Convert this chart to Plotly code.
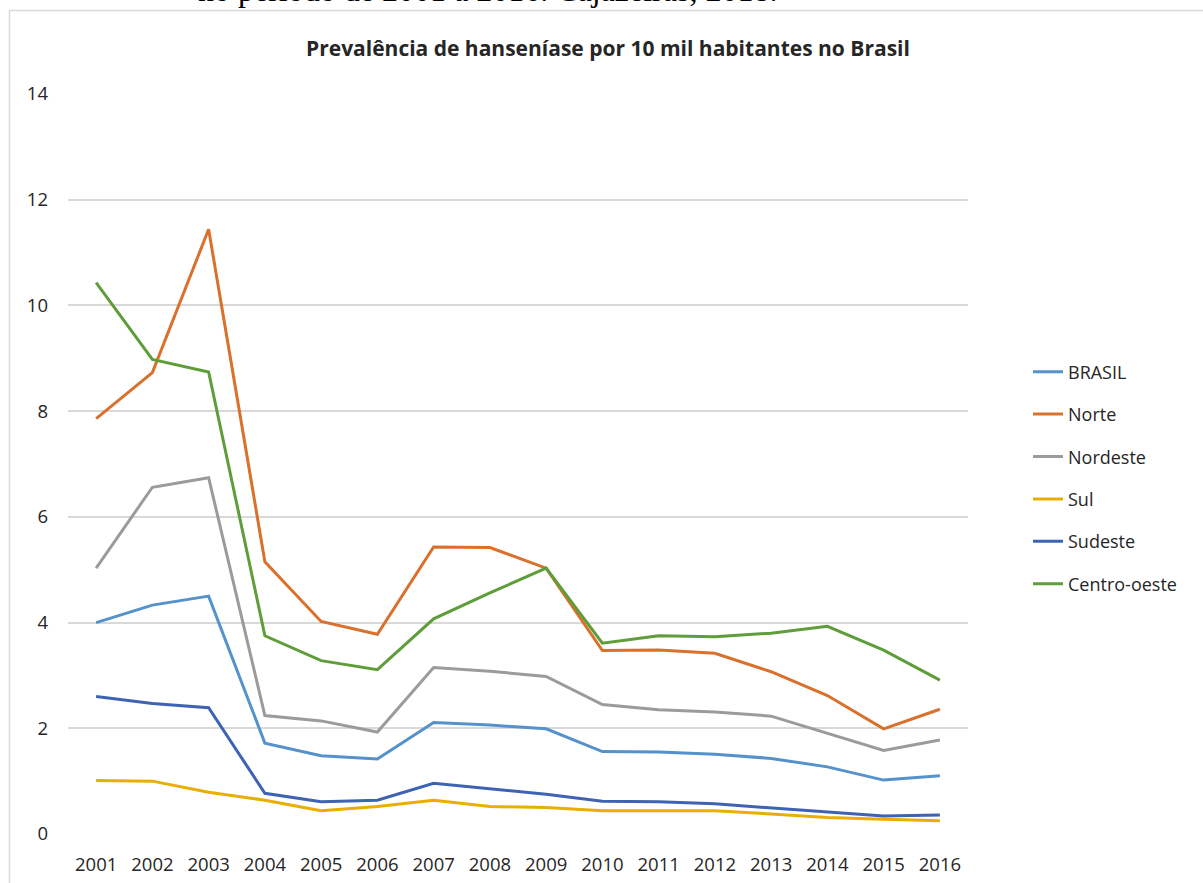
import plotly.graph_objects as go

years = ["2001", "2002", "2003", "2004", "2005", "2006", "2007", "2008",
         "2009", "2010", "2011", "2012", "2013", "2014", "2015", "2016"]

brasil = [4.00, 4.33, 4.50, 1.72, 1.48, 1.42, 2.11, 2.06, 1.99, 1.56, 1.55, 1.51, 1.43, 1.27, 1.02, 1.10]
norte = [7.86, 8.73, 11.44, 5.15, 4.02, 3.78, 5.43, 5.42, 5.03, 3.47, 3.48, 3.42, 3.07, 2.62, 1.99, 2.36]
nordeste = [5.03, 6.56, 6.74, 2.24, 2.14, 1.93, 3.15, 3.08, 2.98, 2.45, 2.35, 2.31, 2.23, 1.90, 1.58, 1.78]
sul = [1.01, 1.00, 0.79, 0.64, 0.44, 0.52, 0.64, 0.52, 0.50, 0.44, 0.44, 0.44, 0.38, 0.31, 0.28, 0.25]
sudeste = [2.60, 2.47, 2.39, 0.77, 0.61, 0.64, 0.96, 0.86, 0.75, 0.62, 0.61, 0.57, 0.49, 0.42, 0.34, 0.36]
centro_oeste = [10.43, 8.98, 8.74, 3.75, 3.28, 3.11, 4.07, 4.56, 5.03, 3.61, 3.75, 3.73, 3.80, 3.93, 3.48, 2.91]

series = [
    ("BRASIL", brasil, "#5592CB"),
    ("Norte", norte, "#D9702C"),
    ("Nordeste", nordeste, "#9B9B9B"),
    ("Sul", sul, "#E8AE00"),
    ("Sudeste", sudeste, "#3E63B3"),
    ("Centro-oeste", centro_oeste, "#5F9D3A"),
]

y_ticks = [0, 2, 4, 6, 8, 10, 12, 14]

FONT = "'Open Sans', Lato, sans-serif"

fig = go.Figure()
for i, (name, vals, color) in enumerate(series):
    fig.add_trace(go.Scatter(
        x=years, y=vals, name=name, mode="lines",
        line=dict(color=color, width=3),
        legendgroup=str(i),
    ))

W, H = 1203, 883
L, R, T, B = 68, 235, 94, 49
pw, ph = W - L - R, H - T - B

def px_x(p):
    return (p - L) / pw

def px_y(p):
    return (H - B - p) / ph

fig.update_layout(
    width=W, height=H,
    margin=dict(l=L, r=R, t=T, b=B, pad=0, autoexpand=False),
    paper_bgcolor="white", plot_bgcolor="white",
    font=dict(family=FONT, size=18, color="#262626"),
    showlegend=True,
    legend=dict(
        x=px_x(1028), y=px_y(478), xanchor="left", yanchor="middle",
        font=dict(family=FONT, size=18, color="#262626"),
        traceorder="grouped", tracegroupgap=16,
        itemwidth=30, bgcolor="rgba(0,0,0,0)",
    ),
    xaxis=dict(
        type="category", range=[-0.5, 15.5], automargin=False,
        showgrid=False, zeroline=False, showline=False,
        ticks="", tickfont=dict(family=FONT, size=18.5, color="#262626"),
        ticklabelstandoff=17,
    ),
    yaxis=dict(
        range=[0, 14], tickvals=y_ticks, automargin=False,
        showgrid=True, gridcolor="#D9D9D9", gridwidth=1.5,
        zeroline=False, showline=False, ticks="",
        tickfont=dict(family=FONT, size=18.5, color="#262626"),
        ticklabelstandoff=19,
    ),
    shapes=[dict(
        type="rect", xref="paper", yref="paper",
        x0=px_x(9.5), x1=px_x(W + 20), y0=px_y(H + 20), y1=px_y(10.5),
        line=dict(color="#D9D9D9", width=1.5), fillcolor="rgba(0,0,0,0)",
        layer="below",
    )],
    annotations=[
        dict(
            text="<b>Prevalência de hanseníase por 10 mil habitantes no Brasil</b>",
            xref="paper", yref="paper", x=px_x(608), y=px_y(48),
            xanchor="center", yanchor="middle", showarrow=False,
            font=dict(family=FONT, size=21, color="#262626"),
        ),
        dict(
            text="no período de 2001 a 2016. Cajazeiras, 2018.",
            xref="paper", yref="paper", x=px_x(487), y=px_y(10),
            xanchor="center", yanchor="bottom", showarrow=False,
            font=dict(family="'Liberation Serif', 'Times New Roman', serif", size=32, color="#000000"),
        ),
    ],
)

fig.write_html("out.html")
